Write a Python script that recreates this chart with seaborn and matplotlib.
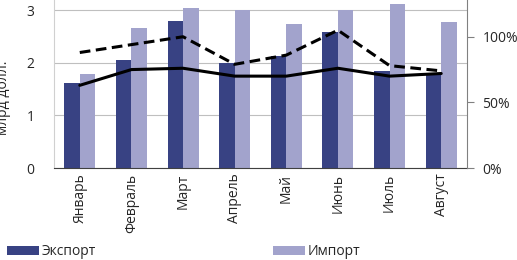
import numpy as np
import pandas as pd
import matplotlib
matplotlib.use('Agg')
import matplotlib.pyplot as plt
import seaborn as sns

months = ['Январь', 'Февраль', 'Март', 'Апрель', 'Май', 'Июнь', 'Июль', 'Август']
export = [1.62, 2.05, 2.80, 2.00, 2.13, 2.58, 1.84, 1.79]
imports = [1.78, 2.66, 3.03, 3.00, 2.73, 3.00, 3.12, 2.78]
ratio_solid = [63, 75, 76, 70, 70, 76, 70, 72]
ratio_dashed = [88, 94, 100, 79, 86, 105, 78, 74]

sns.set_style('white')
plt.rcParams['font.family'] = ['Open Sans', 'DejaVu Sans']
plt.rcParams['font.size'] = 10

df = pd.DataFrame({
    'month': months * 2,
    'value': export + imports,
    'kind': ['Экспорт'] * len(months) + ['Импорт'] * len(months),
})

fig = plt.figure(figsize=(5.17, 2.6), dpi=100)
ax = fig.add_axes([0.1044, 0.3538, 0.7989, 0.6462])

sns.barplot(data=df, x='month', y='value', hue='kind', order=months,
            palette=['#2b3990', '#9b9dd3'], width=0.6, gap=0,
            edgecolor='none', ax=ax, legend=True)

ax.set_ylim(0, 3.19)
ax.set_xlim(-0.5, len(months) - 0.5)
ax.set_yticks([0, 1, 2, 3])
ax.set_yticklabels(['0', '1', '2', '3'])
ax.grid(axis='y', color='#bfbfbf', linewidth=0.8)
ax.set_axisbelow(True)
ax.set_xlabel('')
ax.set_ylabel('млрд долл.', fontsize=10)
ax.yaxis.set_label_coords(-0.105, 0.42)
ax.tick_params(axis='y', length=0, pad=14)
ax.set_xticks(np.arange(len(months)) - 0.5, minor=True)
ax.tick_params(axis='x', which='major', length=0, pad=4, labelrotation=90)
ax.tick_params(axis='x', which='minor', length=5, color='#404040', width=0.8)
for s in ['top', 'right']:
    ax.spines[s].set_visible(False)
ax.spines['left'].set_color('#d0d0d0')
ax.spines['bottom'].set_color('#404040')

handles, labels = ax.get_legend_handles_labels()
ax.get_legend().remove()

ax2 = ax.twinx()
xs = np.arange(len(months))
sns.lineplot(x=xs, y=ratio_solid, color='black', linewidth=2.2, ax=ax2)
sns.lineplot(x=xs, y=ratio_dashed, color='black', linewidth=2.2,
             linestyle=(0, (3.5, 1.8)), ax=ax2)
ax2.set_ylim(0, 128)
ax2.set_yticks([0, 50, 100])
ax2.set_yticklabels(['0%', '50%', '100%'])
ax2.tick_params(axis='y', length=5, color='#808080', pad=6)
for s in ['top', 'left', 'bottom']:
    ax2.spines[s].set_visible(False)
ax2.spines['right'].set_color('#808080')

fig.legend(handles, labels, loc='lower left', bbox_to_anchor=(-0.01, -0.045),
           ncol=2, frameon=False, handlelength=2.3, handleheight=0.6,
           handletextpad=0.2, columnspacing=12.7, fontsize=10)

fig.savefig('out.png', dpi=100)
